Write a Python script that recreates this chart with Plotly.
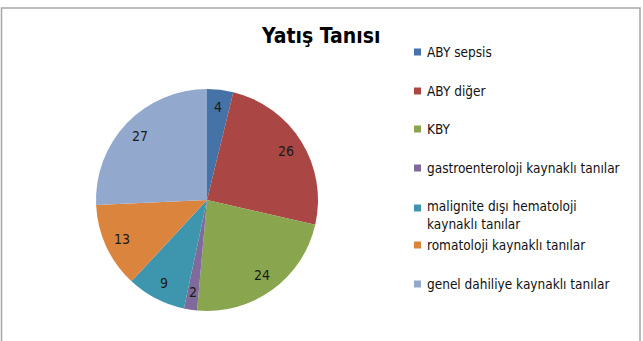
import math
import plotly.graph_objects as go

labels = ["ABY sepsis", "ABY diğer", "KBY", "gastroenteroloji kaynaklı tanılar",
          "malignite dışı hematoloji<br>kaynaklı tanılar", "romatoloji kaynaklı tanılar",
          "genel dahiliye kaynaklı tanılar"]
values = [4, 26, 24, 2, 9, 13, 27]
colors = ["#4572A7", "#AA4643", "#89A54E", "#80699B", "#3D96AE", "#DB843D", "#92A8CD"]
title = "Yatış Tanısı"

W, H = 643, 341
FONT = "Liberation Sans Narrow, DejaVu Sans Condensed, Open Sans, sans-serif"

PX0, PX1, PY0, PY1 = 96, 318, 89, 311  # pie box in pixels
fig = go.Figure(go.Pie(
    labels=labels, values=values, sort=False, direction="clockwise", rotation=0,
    marker=dict(colors=colors, line=dict(width=0)),
    textinfo="none", textposition="none",
    domain=dict(x=[PX0 / W, PX1 / W], y=[1 - PY1 / H, 1 - PY0 / H]),
    showlegend=False, hoverinfo="label+value",
))

shapes = [dict(type="rect", xref="paper", yref="paper", x0=1.5 / W, x1=640 / W,
               y0=-0.05, y1=1 - 8 / H, line=dict(color="#A6A6A6", width=1.5),
               fillcolor="rgba(0,0,0,0)")]
annotations = []

# data labels placed at ~0.85 of radius along each slice's mid-angle
cx, cy, R = (PX0 + PX1) / 2, (PY0 + PY1) / 2, (PX1 - PX0) / 2
total = sum(values)
cum = 0
for v in values:
    mid = (cum + v / 2) / total * 2 * math.pi
    cum += v
    r = 0.84 * R
    x = cx + r * math.sin(mid)
    y = cy - r * math.cos(mid)
    annotations.append(dict(text=str(v), xref="paper", yref="paper", x=x / W, y=1 - y / H,
                            xanchor="center", yanchor="middle", showarrow=False,
                            font=dict(family=FONT, size=14, color="#1a1a1a")))

# legend built from the data arrays
legend_y = [52, 91, 129, 168, 215, 245, 284]
for lab, col, yy in zip(labels, colors, legend_y):
    ytop = yy - 7 if "<br>" in lab else yy
    shapes.append(dict(type="rect", xref="paper", yref="paper",
                       x0=414 / W, x1=421 / W, y0=1 - (ytop + 3.5) / H, y1=1 - (ytop - 3.5) / H,
                       fillcolor=col, line=dict(width=0)))
    annotations.append(dict(text=lab, xref="paper", yref="paper", x=425 / W, y=1 - yy / H,
                            xanchor="left", yanchor="middle", showarrow=False, align="left",
                            font=dict(family=FONT, size=13.5, color="#111111")))

annotations.append(dict(text="<b>" + title + "</b>", xref="paper", yref="paper",
                        x=320 / W, y=1 - 36 / H, xanchor="center", yanchor="middle",
                        showarrow=False, font=dict(family=FONT, size=21, color="#000000")))

fig.update_layout(width=W, height=H, margin=dict(l=0, r=0, t=0, b=0),
                  paper_bgcolor="white", plot_bgcolor="white",
                  shapes=shapes, annotations=annotations)
fig.write_html("out.html")
